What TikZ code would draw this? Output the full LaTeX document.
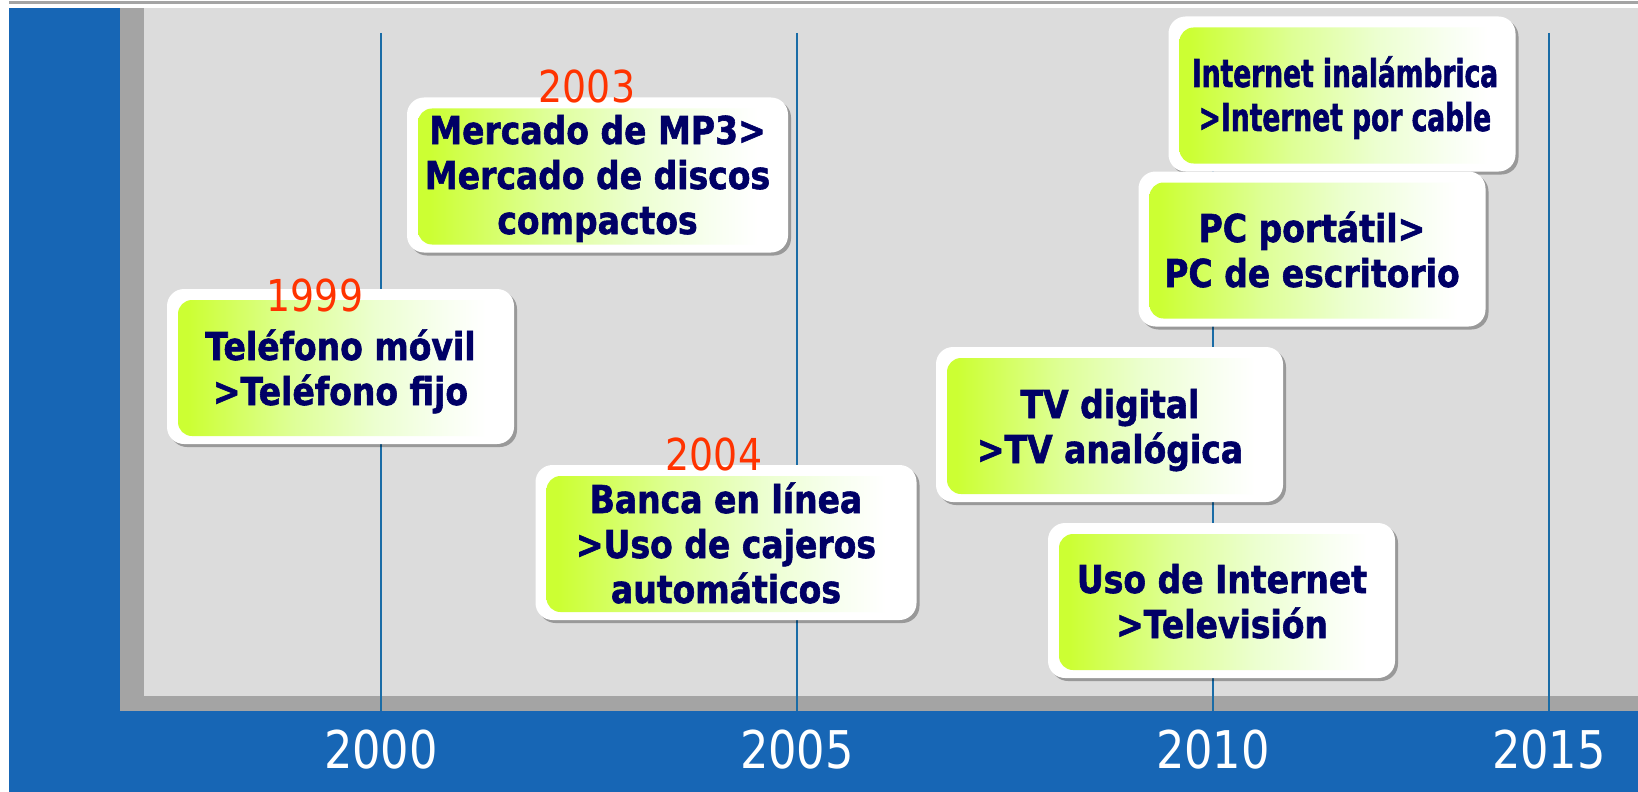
\documentclass[tikz,border=0pt]{standalone}
\usepackage{fontspec}
\setmainfont{DejaVu Sans}[FakeStretch=0.86, BoldFeatures={FakeBold=1.5}]
\newfontfamily\narrowfont{DejaVu Sans}[FakeStretch=0.69, BoldFeatures={FakeBold=1.5}]
\usetikzlibrary{shadows}
\definecolor{bgblue}{HTML}{1766B5}
\definecolor{lgray}{HTML}{DCDCDC}
\definecolor{dgray}{HTML}{A4A4A4}
\definecolor{tline}{HTML}{1A6CA6}
\definecolor{navy}{HTML}{000066}
\definecolor{yearred}{HTML}{FF3300}
\definecolor{gA}{HTML}{CCFF33}
\definecolor{gB}{HTML}{DEFF96}
\definecolor{gC}{HTML}{ECFFD0}
\definecolor{gD}{HTML}{F8FFF0}
\pgfdeclarehorizontalshading{limefade}{100bp}{color(0bp)=(gA); color(25bp)=(gA); color(28bp)=(gA); color(43bp)=(gB); color(55bp)=(gC); color(65bp)=(gD); color(71bp)=(white); color(100bp)=(white)}
\begin{document}
\begin{tikzpicture}[x=0.5pt,y=-0.5pt,
  card/.style={fill=white, rounded corners=8.5pt, inner sep=0pt, minimum width=173.5pt, minimum height=77.5pt,
    drop shadow={shadow xshift=1.5pt, shadow yshift=-1.5pt, fill=black, opacity=0.3},
    path picture={\shade[shading=limefade, rounded corners=7pt] ([shift={(5.5pt,4pt)}]path picture bounding box.south west) rectangle ([shift={(-5.5pt,-5.5pt)}]path picture bounding box.north east);}},
  widecard/.style={minimum width=190.5pt},
  cardtext/.style={align=center, text=navy, font=\bfseries\fontsize{19.2pt}{22.5pt}\selectfont, inner sep=0pt, anchor=base},
  narrowtext/.style={align=center, text=navy, font=\narrowfont\bfseries\fontsize{19.2pt}{22pt}\selectfont, inner sep=0pt, anchor=base},
  yearlbl/.style={text=yearred, font=\fontsize{22pt}{26pt}\selectfont, inner sep=0pt, anchor=base},
  axislbl/.style={text=white, font=\fontsize{26pt}{30pt}\selectfont, inner sep=0pt, anchor=base},
  tick/.style={draw=tline, line width=1pt}
]
\useasboundingbox (0,0) rectangle (1638,792);
\fill[white] (0,0) rectangle (1638,792);
\fill[dgray] (9,1) rectangle (1638,4);
\fill[bgblue] (9,8) rectangle (1638,792);
\fill[dgray] (120,8) rectangle (1638,711);
\fill[lgray] (144,8) rectangle (1638,696);

% timeline ticks
\coordinate (a2000) at (381,33);  \coordinate (b2000) at (381,711);
\coordinate (a2005) at (797,33);  \coordinate (b2005) at (797,711);
\coordinate (a2010) at (1213,33); \coordinate (b2010) at (1213,711);
\coordinate (a2015) at (1549,33); \coordinate (b2015) at (1549,711);
\draw[tick] (a2000) -- (b2000);
\draw[tick] (a2005) -- (b2005);
\draw[tick] (a2010) -- (b2010);
\draw[tick] (a2015) -- (b2015);

% cards (text anchored at the baseline of the last line)
\node[card] (c1) at (340.5,366.5) {};
\node[cardtext] (x1) at (340.5,405) {Teléfono móvil\\>Teléfono fijo};

\node[card,widecard] (c2) at (597.5,175) {};
\node[cardtext] (x2) at (597.5,234) {Mercado de MP3>\\Mercado de discos\\compactos};

\node[card,widecard] (c3) at (726,542.5) {};
\node[cardtext] (x3) at (726,603) {Banca en línea\\>Uso de cajeros\\automáticos};

\node[card] (c4) at (1342,94) {};
\node[narrowtext] (x4) at (1345,131) {Internet inalámbrica\\>Internet por cable};

\node[card] (c5) at (1312,249) {};
\node[cardtext] (x5) at (1312,287) {PC portátil>\\PC de escritorio};

\node[card] (c6) at (1109.5,424.5) {};
\node[cardtext] (x6) at (1110,463) {TV digital\\>TV analógica};

\node[card] (c7) at (1221.5,600.5) {};
\node[cardtext] (x7) at (1222,638) {Uso de Internet\\>Televisión};

% red years
\node[yearlbl] (r1999) at (315,311.5) {1999};
\node[yearlbl] (r2003) at (587,102.7) {2003};
\node[yearlbl] (r2004) at (714,470.7) {2004};

% axis years
\node[axislbl] (y2000) at (381,768) {2000};
\node[axislbl] (y2005) at (797,768) {2005};
\node[axislbl] (y2010) at (1213,768) {2010};
\node[axislbl] (y2015) at (1549,768) {2015};
\end{tikzpicture}
\end{document}
